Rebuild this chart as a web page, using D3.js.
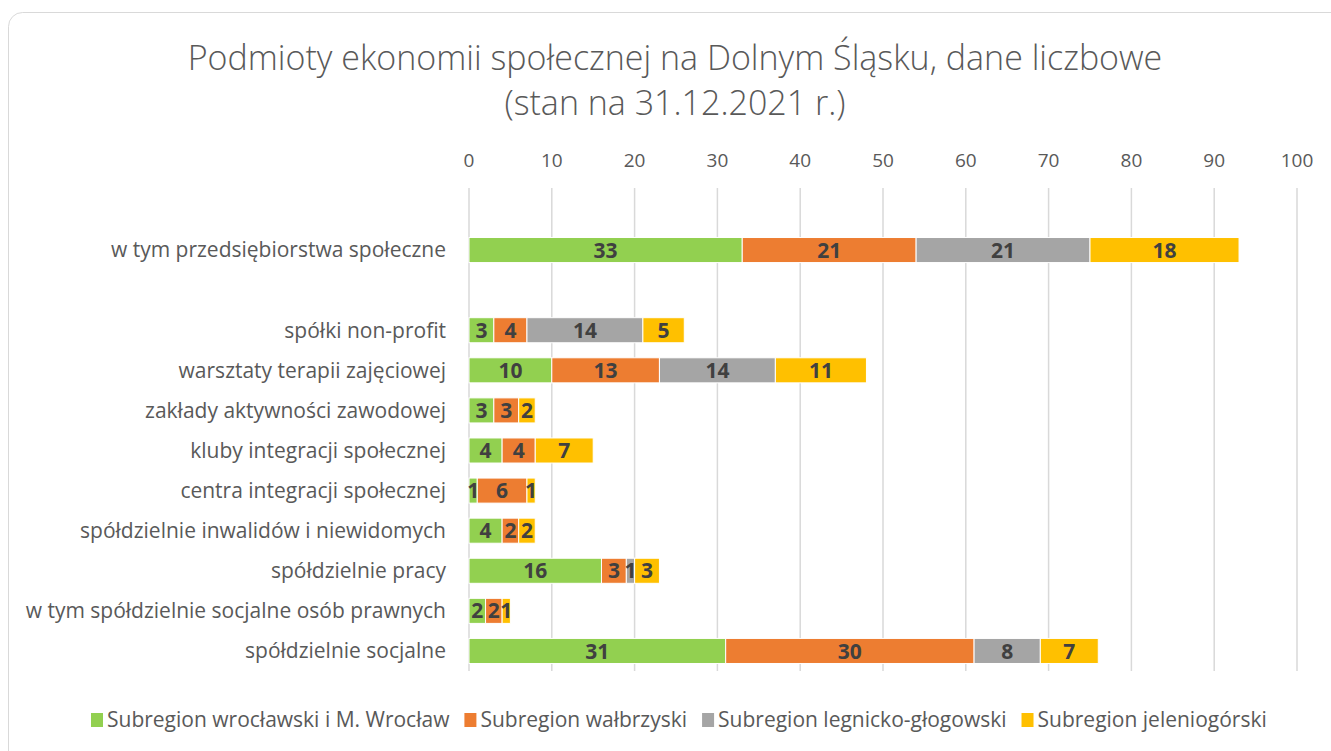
<!DOCTYPE html>
<html>
<head>
<meta charset="utf-8">
<script src="https://cdn.jsdelivr.net/npm/d3@7"></script>
<style>
  body { margin: 0; background: #fff; }
  svg { display: block; font-family: "Open Sans", sans-serif; }
</style>
</head>
<body>
<div id="art"></div>
<script>
const categories = [
  "w tym przedsiębiorstwa społeczne",
  " ",
  "spółki non-profit",
  "warsztaty terapii zajęciowej",
  "zakłady aktywności zawodowej",
  "kluby integracji społecznej",
  "centra integracji społecznej",
  "spółdzielnie inwalidów i niewidomych",
  "spółdzielnie pracy",
  "w tym spółdzielnie socjalne osób prawnych",
  "spółdzielnie socjalne"
];
const seriesNames = [
  "Subregion wrocławski i M. Wrocław",
  "Subregion wałbrzyski",
  "Subregion legnicko-głogowski",
  "Subregion jeleniogórski"
];
const wroclaw   = [33, 0, 3, 10, 3, 4, 1, 4, 16, 2, 31];
const walbrzych = [21, 0, 4, 13, 3, 4, 6, 2, 3, 2, 30];
const legnica   = [21, 0, 14, 14, 0, 0, 0, 0, 1, 0, 8];
const jelenia   = [18, 0, 5, 11, 2, 7, 1, 2, 3, 1, 7];
const xTicks = [0, 10, 20, 30, 40, 50, 60, 70, 80, 90, 100];
const colours = ["#92d050", "#ed7d31", "#a5a5a5", "#ffc000"];

function art() {
  const width = 1331, height = 751;
  const svg = d3.select("#art").append("svg")
    .attr("width", width).attr("height", height);

  // chart frame
  svg.append("rect")
    .attr("x", 8.5).attr("y", 12.5)
    .attr("width", 1340).attr("height", 760)
    .attr("rx", 14)
    .attr("fill", "#fff")
    .attr("stroke", "#d9d9d9");

  svg.append("text")
    .attr("x", 675).attr("y", 70)
    .attr("text-anchor", "middle")
    .attr("font-size", 34).attr("font-weight", 300)
    .attr("fill", "#595959")
    .text("Podmioty ekonomii społecznej na Dolnym Śląsku, dane liczbowe");
  svg.append("text")
    .attr("x", 675).attr("y", 115)
    .attr("text-anchor", "middle")
    .attr("font-size", 34).attr("font-weight", 300)
    .attr("fill", "#595959")
    .text("(stan na 31.12.2021 r.)");

  const x = d3.scaleLinear().domain([0, 100]).range([469, 1297]);
  const y = d3.scaleBand().domain(categories).range([230, 671]).paddingInner(0.375).paddingOuter(0.1875);

  // gridlines
  svg.append("g").selectAll("line")
    .data(xTicks).enter().append("line")
    .attr("x1", d => x(d)).attr("x2", d => x(d))
    .attr("y1", 188).attr("y2", 671)
    .attr("stroke", "#d9d9d9").attr("stroke-width", 1.5);

  // top axis labels
  svg.append("g").selectAll("text")
    .data(xTicks).enter().append("text")
    .attr("x", d => x(d)).attr("y", 167)
    .attr("text-anchor", "middle")
    .attr("font-size", 19).attr("fill", "#595959")
    .text(d => d);

  // category labels
  svg.append("g").selectAll("text")
    .data(categories).enter().append("text")
    .attr("x", 446).attr("y", d => y(d) + y.bandwidth() / 2)
    .attr("dy", "0.35em")
    .attr("text-anchor", "end")
    .attr("font-size", 21).attr("fill", "#595959")
    .text(d => d.trim());

  const rows = categories.map((c, i) => ({
    cat: c, wroclaw: wroclaw[i], walbrzych: walbrzych[i], legnica: legnica[i], jelenia: jelenia[i]
  }));
  const keys = ["wroclaw", "walbrzych", "legnica", "jelenia"];
  const stacked = d3.stack().keys(keys)(rows);

  const layers = svg.append("g").selectAll("g")
    .data(stacked).enter().append("g")
    .attr("fill", (d, i) => colours[i]);

  layers.selectAll("rect")
    .data(d => d.filter(s => s[1] - s[0] > 0)).enter().append("rect")
    .attr("x", d => x(d[0]))
    .attr("y", d => y(d.data.cat))
    .attr("width", d => x(d[1]) - x(d[0]))
    .attr("height", y.bandwidth())
    .attr("stroke", "#fff").attr("stroke-width", 1);

  layers.selectAll("text")
    .data(d => d.filter(s => s[1] - s[0] > 0)).enter().append("text")
    .attr("x", d => (x(d[0]) + x(d[1])) / 2)
    .attr("y", d => y(d.data.cat) + y.bandwidth() / 2)
    .attr("dy", "0.36em")
    .attr("text-anchor", "middle")
    .attr("font-size", 21).attr("font-weight", 700)
    .attr("fill", "#404040")
    .text(d => d[1] - d[0]);

  // legend
  const legend = svg.append("g").attr("transform", "translate(91,720)");
  let lx = 0;
  seriesNames.forEach((name, i) => {
    const g = legend.append("g").attr("transform", `translate(${lx},0)`);
    g.append("rect").attr("x", 0).attr("y", -7).attr("width", 12).attr("height", 14)
      .attr("fill", colours[i]);
    const t = g.append("text").attr("x", 16).attr("dy", "0.35em")
      .attr("font-size", 21).attr("fill", "#595959").text(name);
    lx += 16 + t.node().getComputedTextLength() + 15;
  });
}

window.onload = function () {
  art();
};
</script>
</body>
</html>
